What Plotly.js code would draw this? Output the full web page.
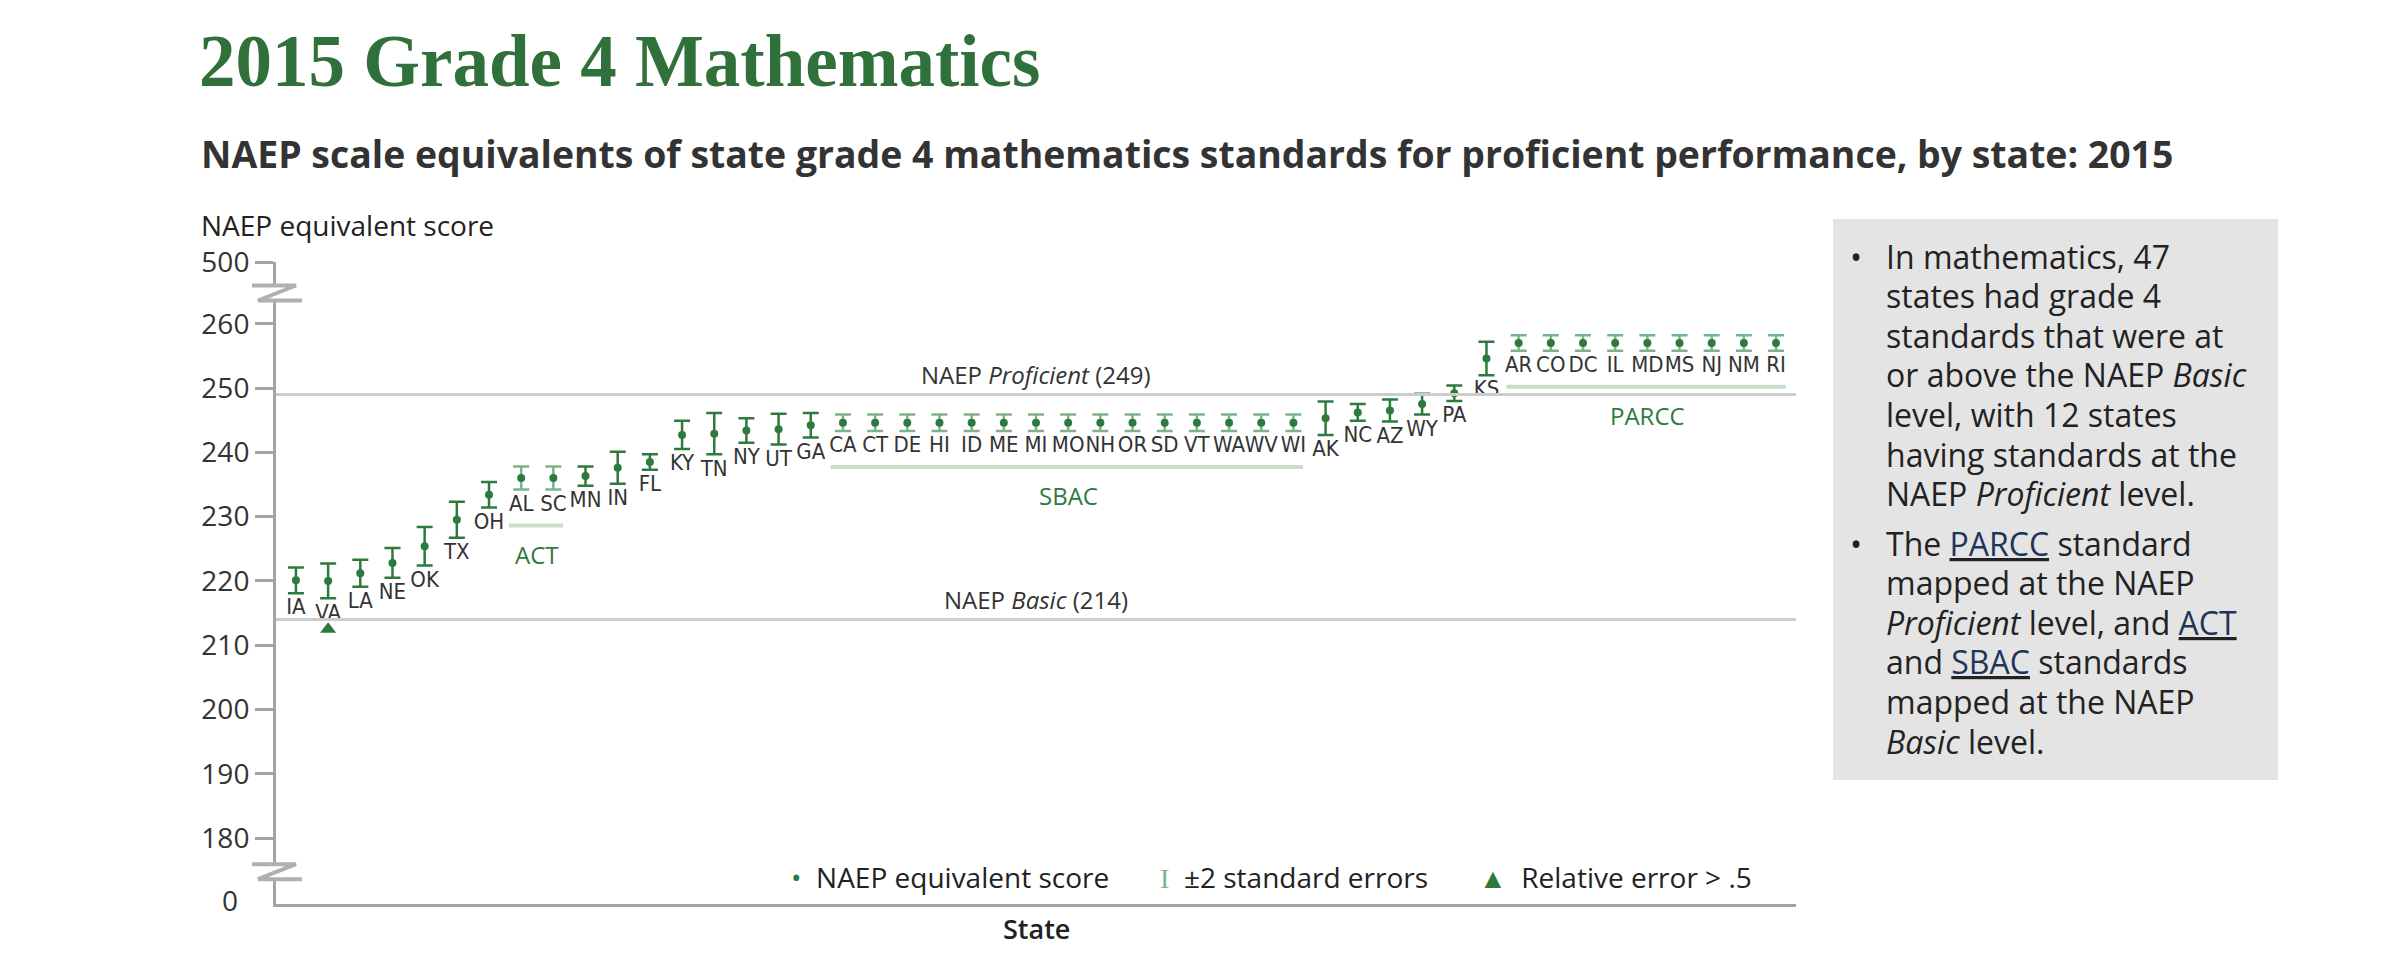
<!DOCTYPE html>
<html>
<head>
<meta charset="utf-8">
<script src="https://cdn.plot.ly/plotly-3.0.1.min.js"></script>
<style>
  html, body { margin: 0; padding: 0; background: #fff; }
  #chart { width: 2400px; height: 972px; }
</style>
</head>
<body>
<div id="chart"></div>
<script>
// states in chart order (lowest to highest NAEP equivalent)
const states = ['IA', 'VA', 'LA', 'NE', 'OK', 'TX', 'OH', 'AL', 'SC', 'MN', 'IN', 'FL',
    'KY', 'TN', 'NY', 'UT', 'GA',
    'CA', 'CT', 'DE', 'HI', 'ID', 'ME', 'MI', 'MO', 'NH', 'OR', 'SD', 'VT', 'WA', 'WV', 'WI',
    'AK', 'NC', 'AZ', 'WY', 'PA', 'KS',
    'AR', 'CO', 'DC', 'IL', 'MD', 'MS', 'NJ', 'NM', 'RI'];

const scores = [220.1, 220.0, 221.2, 222.8, 225.4, 229.5, 233.4, 236.0, 236.0, 236.3, 237.6, 238.5,
    242.7, 242.9, 243.4, 243.6, 244.2,
    244.6, 244.6, 244.6, 244.6, 244.6, 244.6, 244.6, 244.6, 244.6, 244.6, 244.6, 244.6, 244.6, 244.6, 244.6,
    245.3, 246.2, 246.5, 247.5, 249.2, 254.6,
    257.0, 257.0, 257.0, 257.0, 257.0, 257.0, 257.0, 257.0, 257.0];

// two standard errors
const errors = [2.0, 2.7, 2.1, 2.3, 3.0, 2.8, 2.0, 1.8, 1.8, 1.5, 2.5, 1.2,
    2.2, 3.2, 1.9, 2.4, 1.9,
    1.3, 1.3, 1.3, 1.3, 1.3, 1.3, 1.3, 1.3, 1.3, 1.3, 1.3, 1.3, 1.3, 1.3, 1.3,
    2.6, 1.3, 1.7, 1.6, 1.2, 2.6,
    1.2, 1.2, 1.2, 1.2, 1.2, 1.2, 1.2, 1.2, 1.2];

const consortium = ['', '', '', '', '', '', '', 'ACT', 'ACT', '', '', '',
    '', '', '', '', '',
    'SBAC', 'SBAC', 'SBAC', 'SBAC', 'SBAC', 'SBAC', 'SBAC', 'SBAC', 'SBAC', 'SBAC', 'SBAC', 'SBAC', 'SBAC', 'SBAC', 'SBAC',
    '', '', '', '', '', '',
    'PARCC', 'PARCC', 'PARCC', 'PARCC', 'PARCC', 'PARCC', 'PARCC', 'PARCC', 'PARCC'];

const flagged = ['VA'];          // relative error > .5
const groups = ['ACT', 'SBAC', 'PARCC'];

const naepLevels = [
    {name: 'Proficient', score: 249},
    {name: 'Basic', score: 214}
];

const yTickVals = [180, 190, 200, 210, 220, 230, 240, 250, 260];

const noteBullets = [
    ['In mathematics, 47', 'states had grade 4', 'standards that were at', 'or above the NAEP <i>Basic</i>',
        'level, with 12 states', 'having standards at the', 'NAEP <i>Proficient</i> level.'],
    ['The <u>PARCC</u> standard', 'mapped at the NAEP', '<i>Proficient</i> level, and <u>ACT</u>',
        'and <u>SBAC</u> standards', 'mapped at the NAEP', '<i>Basic</i> level.']
];

// axis break: plot runs 169.75 .. 269.6, top edge stands for 500, bottom for 0
const Y_BOTTOM = 169.75;
const Y_TOP = 269.6;
const FLAG_Y = 212.5;

const GREEN = '#2e7a3e';
const GREEN_LIGHT = '#7db38a';
const GREY_LINE = '#a4a4a4';
const TEXT = '#333333';
const SANS = 'Open Sans, sans-serif';

// plot box in page pixels, used for the notes panel
const PLOT_L = 276, PLOT_W = 1520, PLOT_B = 904, PLOT_H = 642;
const px = x => (x - PLOT_L) / PLOT_W;
const py = y => (PLOT_B - y) / PLOT_H;

function pick(arr, test) {
    return arr.filter((_, i) => test(i));
}

const own = i => consortium[i] === '';
const shared = i => consortium[i] !== '';

const data = [
    {
        x: pick(states, own),
        y: pick(scores, own),
        type: 'scatter',
        mode: 'markers',
        marker: {symbol: 'circle', size: 8, color: GREEN},
        error_y: {type: 'data', array: pick(errors, own), color: GREEN, thickness: 2.5, width: 8},
        hoverinfo: 'x+y'
    },
    {
        x: pick(states, shared),
        y: pick(scores, shared),
        type: 'scatter',
        mode: 'markers',
        marker: {symbol: 'circle', size: 8, color: GREEN},
        error_y: {type: 'data', array: pick(errors, shared), color: GREEN_LIGHT, thickness: 2.5, width: 8},
        hoverinfo: 'x+y'
    },
    {
        x: states,
        y: scores.map((s, i) => s - errors[i]),
        type: 'scatter',
        mode: 'markers+text',
        marker: {size: 6, opacity: 0},
        text: states,
        textposition: 'bottom center',
        textfont: {family: 'Liberation Sans Narrow, DejaVu Sans Condensed, sans-serif', size: 22, color: TEXT},
        hoverinfo: 'skip'
    },
    {
        x: flagged,
        y: flagged.map(() => FLAG_Y),
        type: 'scatter',
        mode: 'markers',
        marker: {symbol: 'triangle-up', size: 14, color: GREEN},
        hoverinfo: 'skip'
    }
];

const shapes = [];
const annotations = [];

naepLevels.forEach(level => {
    shapes.push({
        type: 'line', xref: 'paper', yref: 'y',
        x0: 0, x1: 1, y0: level.score, y1: level.score,
        line: {color: '#cccccc', width: 3}
    });
    annotations.push({
        text: 'NAEP <i>' + level.name + '</i> (' + level.score + ')',
        xref: 'paper', yref: 'y', x: 0.5, y: level.score,
        yanchor: 'bottom', showarrow: false, yshift: 1,
        font: {family: SANS, size: 24, color: TEXT}
    });
});

groups.forEach(g => {
    const idx = states.map((s, i) => i).filter(i => consortium[i] === g);
    const first = idx[0];
    const last = idx[idx.length - 1];
    const lineY = Math.min(...idx.map(i => scores[i] - errors[i])) - 5.6;
    shapes.push({
        type: 'line', xref: 'x', yref: 'y',
        x0: first - 0.38, x1: last + 0.3, y0: lineY, y1: lineY,
        line: {color: '#c9ddcb', width: 4}
    });
    annotations.push({
        text: g, xref: 'x', yref: 'y', x: (first + last) / 2, y: lineY,
        yanchor: 'top', yshift: -10, showarrow: false,
        font: {family: SANS, size: 24, color: GREEN}
    });
});

// axis break marks
[264.7, 174.7].forEach(v => {
    shapes.push({
        type: 'path', xref: 'paper', yref: 'y', xsizemode: 'pixel', ysizemode: 'pixel',
        xanchor: 0, yanchor: v,
        path: 'M-24,8 L20,8 L26,-7 L-18,-7 Z',
        fillcolor: '#ffffff', line: {width: 0}
    });
    shapes.push({
        type: 'path', xref: 'paper', yref: 'y', xsizemode: 'pixel', ysizemode: 'pixel',
        xanchor: 0, yanchor: v,
        path: 'M-24,8 L20,8 L-18,-7 L26,-7',
        line: {color: '#b0b0b0', width: 4}
    });
});

// side note panel
shapes.push({
    type: 'rect', xref: 'paper', yref: 'paper',
    x0: px(1833), x1: px(2278), y0: py(780), y1: py(219),
    fillcolor: '#e4e4e4', line: {width: 0}, layer: 'below'
});

const noteFont = {family: SANS, size: 32, color: '#222222'};
const linkStyle = t => t.replace(/<u>(.*?)<\/u>/g, '<u><span style="color:#1e3558">$1</span></u>');
const bulletTop = [256, 543];
noteBullets.forEach((lines, b) => {
    annotations.push({
        text: '•', xref: 'paper', yref: 'paper', x: px(1856), y: py(bulletTop[b]),
        xanchor: 'center', yanchor: 'middle', showarrow: false, font: noteFont
    });
    lines.forEach((line, k) => {
        annotations.push({
            text: linkStyle(line), xref: 'paper', yref: 'paper',
            x: px(1884), y: py(bulletTop[b] + k * 39.6),
            xanchor: 'left', yanchor: 'middle', align: 'left', showarrow: false, font: noteFont
        });
    });
});

annotations.push(
    {
        text: 'NAEP scale equivalents of state grade 4 mathematics standards for proficient performance, by state: 2015',
        xref: 'paper', yref: 'paper', x: px(199), y: py(153),
        xanchor: 'left', yanchor: 'middle', showarrow: false,
        font: {family: SANS, size: 37.4, color: TEXT, weight: 'bold'}
    },
    {
        text: 'NAEP equivalent score',
        xref: 'paper', yref: 'paper', x: px(199), y: py(225),
        xanchor: 'left', yanchor: 'middle', showarrow: false,
        font: {family: SANS, size: 28, color: '#222222'}
    },
    {
        text: '0', xref: 'paper', yref: 'paper', x: px(240), y: py(900),
        xanchor: 'right', yanchor: 'middle', showarrow: false,
        font: {family: SANS, size: 28, color: TEXT}
    },
    {
        text: 'State', xref: 'paper', yref: 'paper', x: 0.5, y: py(928),
        xanchor: 'center', yanchor: 'middle', showarrow: false,
        font: {family: SANS, size: 27, color: '#222222', weight: 600}
    },
    {
        text: '<span style="color:' + GREEN + '">•</span>  NAEP equivalent score       ' +
            '<span style="color:' + GREEN_LIGHT + ';font-family:Liberation Serif">I</span>  ±2 standard errors       ' +
            '<span style="color:' + GREEN + '">▲</span>  Relative error > .5',
        xref: 'paper', yref: 'paper', x: px(1271), y: py(877),
        xanchor: 'center', yanchor: 'middle', showarrow: false,
        font: {family: SANS, size: 28, color: '#222222'}
    }
);

const layout = {
    title: {
        text: '2015 Grade 4 Mathematics',
        x: 199 / 2400, xanchor: 'left', xref: 'container',
        y: 1 - 60 / 972, yanchor: 'middle', yref: 'container',
        font: {family: 'Liberation Serif, serif', size: 73, color: '#30703a', weight: 'bold'}
    },
    xaxis: {
        type: 'category',
        categoryorder: 'array',
        categoryarray: states,
        range: [-0.62, 46.62],
        showticklabels: false,
        ticks: '',
        showgrid: false,
        zeroline: false,
        showline: true,
        linecolor: GREY_LINE,
        linewidth: 3
    },
    yaxis: {
        range: [Y_BOTTOM, Y_TOP],
        tickvals: yTickVals.concat([Y_TOP - 0.05]),
        ticktext: yTickVals.map(String).concat(['500']),
        ticks: 'outside',
        ticklen: 18,
        tickwidth: 3,
        tickcolor: GREY_LINE,
        ticklabelstandoff: 0,
        tickfont: {family: SANS, size: 28, color: TEXT},
        showgrid: false,
        zeroline: false,
        showline: true,
        linecolor: GREY_LINE,
        linewidth: 3
    },
    shapes,
    annotations,
    showlegend: false,
    autosize: false,
    width: 2400,
    height: 972,
    paper_bgcolor: '#ffffff',
    plot_bgcolor: 'rgba(0,0,0,0)',
    margin: {l: PLOT_L, r: 2400 - PLOT_L - PLOT_W, t: PLOT_B - PLOT_H, b: 972 - PLOT_B}
};

Plotly.newPlot('chart', data, layout, {displayModeBar: false, staticPlot: true});
</script>
</body>
</html>
